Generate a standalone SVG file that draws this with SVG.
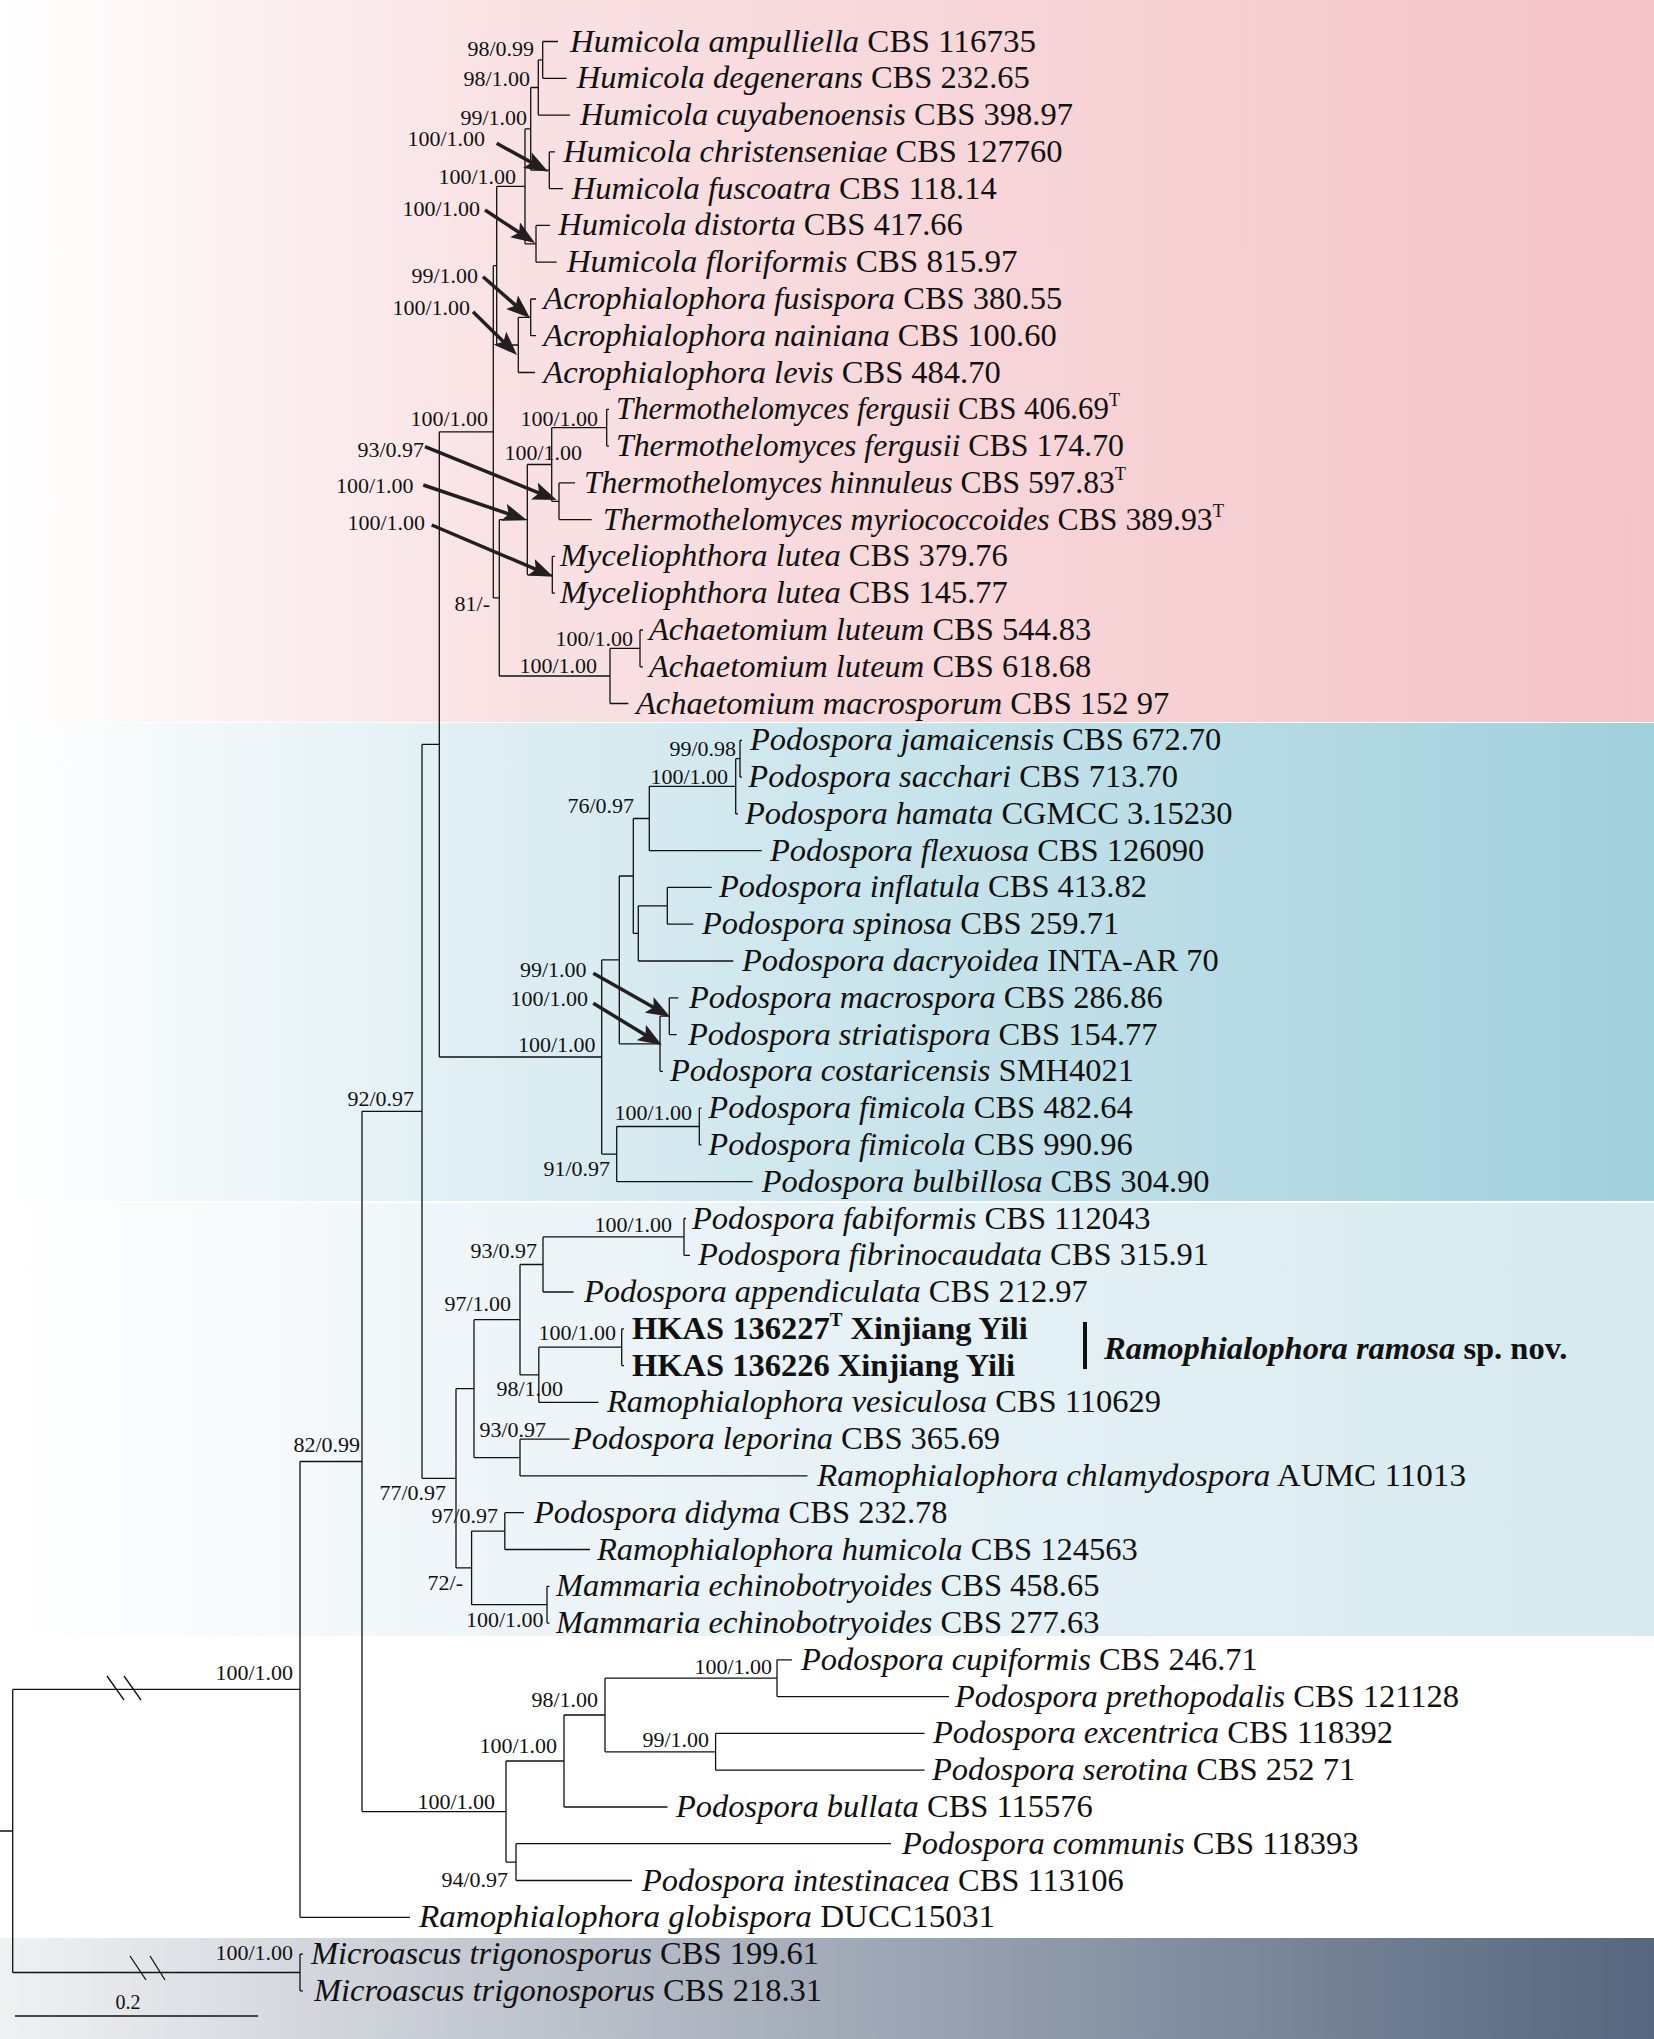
<svg xmlns="http://www.w3.org/2000/svg" width="1654" height="2039" viewBox="0 0 1654 2039">
<defs>
<linearGradient id="gPink" x1="0" y1="0" x2="1" y2="0">
<stop offset="0" stop-color="#ffffff"/><stop offset="0.3" stop-color="#f9e2e4"/><stop offset="1" stop-color="#f4c4c8"/>
</linearGradient>
<linearGradient id="gBlue" x1="0" y1="0" x2="1" y2="0">
<stop offset="0" stop-color="#ffffff"/><stop offset="0.3" stop-color="#deeef3"/><stop offset="1" stop-color="#a0d0dc"/>
</linearGradient>
<linearGradient id="gLight" x1="0" y1="0" x2="1" y2="0">
<stop offset="0" stop-color="#ffffff"/><stop offset="0.3" stop-color="#eef5f8"/><stop offset="1" stop-color="#d6eaf0"/>
</linearGradient>
<linearGradient id="gDark" x1="0" y1="0" x2="1" y2="0">
<stop offset="0" stop-color="#f0f1f3"/><stop offset="1" stop-color="#56667e"/>
</linearGradient>
<marker id="ah" viewBox="0 0 24 18" refX="14" refY="9" markerWidth="24" markerHeight="18" markerUnits="userSpaceOnUse" orient="auto">
<path d="M0,0 L24,9 L0,18 L5,9 z" fill="#231f20"/>
</marker>
<style>
.br{fill:none;stroke:#111;stroke-width:1.3}
.ar{fill:none;stroke:#231f20;stroke-width:3.5;marker-end:url(#ah)}
.t{font-family:"Liberation Serif","Times New Roman",serif;font-size:32.5px;fill:#111}
.i{font-style:italic}
.b{font-weight:bold}
.sup{font-size:19px}
.s{font-family:"Liberation Serif","Times New Roman",serif;font-size:22px;fill:#111;text-anchor:end}
</style>
</defs>
<g id="backgrounds">
<rect x="0" y="0" width="1654" height="722" fill="url(#gPink)"/>
<rect x="0" y="723" width="1654" height="478" fill="url(#gBlue)"/>
<rect x="0" y="1203" width="1654" height="433" fill="url(#gLight)"/>
<rect x="0" y="1938" width="1654" height="101" fill="url(#gDark)"/>
</g>
<g id="connectors">
<path class="br" d="
M0 1831 H12.7 M12.7 1689.4 V1972.5 M12.7 1689.4 H300 M12.7 1972.5 H300
M300 1954.1 V1990.9 M300 1954.1 H303 M300 1990.9 H303
M300 1461.5 V1917.3 M300 1461.5 H362 M300 1917.3 H410
M362 1111.3 V1811.6 M362 1111.3 H422 M362 1811.6 H506
M422 744.4 V1478.3 M422 744.4 H439.3 M422 1478.3 H456
M439.3 431.8 V1057 M439.3 431.8 H493.3 M439.3 1057 H601.7
M493.3 265.7 V597.9 M493.3 265.7 H496.7 M493.3 597.9 H499.3
M496.7 186.4 V345 M496.7 186.4 H525 M496.7 345 H518.3
M525 128.9 V243.8 M525 128.9 H530.7 M525 243.8 H536
M530.7 87.5 V170.2 M530.7 87.5 H538.3 M530.7 170.2 H549.3
M538.3 59.9 V115.1 M538.3 59.9 H542.7 M538.3 115.1 H570
M542.7 41.5 V78.3 M542.7 41.5 H558 M542.7 78.3 H566.7
M549.3 151.8 V188.6 M549.3 151.8 H555 M549.3 188.6 H563
M536 225.4 V262.2 M536 225.4 H550 M536 262.2 H556.7
M518.3 317.4 V372.5 M518.3 317.4 H530.7 M518.3 372.5 H535
M530.7 299 V335.7 M530.7 299 H536 M530.7 335.7 H536
M499.3 519.7 V676 M499.3 519.7 H527.3 M499.3 676 H610
M527.3 464.5 V574.8 M527.3 464.5 H551.7 M527.3 574.8 H552.3
M551.7 427.7 V501.3 M551.7 427.7 H606.7 M551.7 501.3 H559
M606.7 409.3 V446.1 M606.7 409.3 H609 M606.7 446.1 H609
M559 482.9 V519.6 M559 482.9 H575 M559 519.6 H591.7
M552.3 556.4 V593.2 M552.3 556.4 H555 M552.3 593.2 H555
M610 648.4 V703.5 M610 648.4 H640 M610 703.5 H628.3
M640 630 V666.8 M640 630 H643 M640 666.8 H643
M601.7 959.9 V1154.1 M601.7 959.9 H619.3 M601.7 1154.1 H616.7
M619.3 876 V1043.8 M619.3 876 H633.3 M619.3 1043.8 H660
M633.3 818.5 V933.4 M633.3 818.5 H649.3 M633.3 933.4 H638.3
M649.3 786.3 V850.7 M649.3 786.3 H735.7 M649.3 850.7 H761.7
M735.7 758.7 V813.9 M735.7 758.7 H740 M735.7 813.9 H738
M740 740.3 V777.1 M740 740.3 H742 M740 777.1 H742
M638.3 905.8 V961 M638.3 905.8 H667.3 M638.3 961 H733.3
M667.3 887.4 V924.2 M667.3 887.4 H711.7 M667.3 924.2 H693.3
M660 1016.2 V1071.3 M660 1016.2 H669.3 M660 1071.3 H663
M669.3 997.8 V1034.6 M669.3 997.8 H678.3 M669.3 1034.6 H676.7
M616.7 1126.5 V1181.7 M616.7 1126.5 H699.3 M616.7 1181.7 H752.7
M699.3 1108.1 V1144.9 M699.3 1108.1 H701.5 M699.3 1144.9 H701.5
M456 1388.6 V1567.9 M456 1388.6 H474 M456 1567.9 H471.6
M474 1319.7 V1457.6 M474 1319.7 H520 M474 1457.6 H520
M520 1264.5 V1374.8 M520 1264.5 H543 M520 1374.8 H538.8
M543 1236.9 V1292 M543 1236.9 H684 M543 1292 H573.6
M684 1218.5 V1255.3 M684 1218.5 H686 M684 1255.3 H690
M538.8 1347.2 V1402.4 M538.8 1347.2 H621.7 M538.8 1402.4 H598.5
M621.7 1328.8 V1365.6 M621.7 1328.8 H624 M621.7 1365.6 H624
M520 1439.2 V1475.9 M520 1439.2 H569.5 M520 1475.9 H807.5
M471.6 1531.1 V1604.7 M471.6 1531.1 H504.8 M471.6 1604.7 H547
M504.8 1512.7 V1549.5 M504.8 1512.7 H524 M504.8 1549.5 H590
M547 1586.3 V1623.1 M547 1586.3 H549.5 M547 1623.1 H549.5
M506 1761 V1862.1 M506 1761 H564 M506 1862.1 H516
M564 1715 V1807 M564 1715 H605 M564 1807 H667.5
M605 1678.2 V1751.8 M605 1678.2 H777 M605 1751.8 H715.6
M777 1659.8 V1696.6 M777 1659.8 H792 M777 1696.6 H949
M715.6 1733.4 V1770.2 M715.6 1733.4 H924.5 M715.6 1770.2 H924.5
M516 1843.7 V1880.5 M516 1843.7 H891 M516 1880.5 H632
M107 1676 L124 1700 M124 1676 L141 1700
M130 1956 L146 1980 M150 1956 L165 1980
"/>
<path class="ar" d="M496.7 143.3 L539.5 166.9"/>
<path class="ar" d="M485 210 L526.7 237.5"/>
<path class="ar" d="M483 276.7 L522.5 311.4"/>
<path class="ar" d="M473 311.7 L509.9 348"/>
<path class="ar" d="M425 446.7 L547.4 496.3"/>
<path class="ar" d="M423.3 485 L517.2 516.8"/>
<path class="ar" d="M431.7 525 L544.1 572.8"/>
<path class="ar" d="M593.3 973.3 L661.3 1011.8"/>
<path class="ar" d="M593.3 1003.3 L653.2 1039.8"/>
</g>
<g id="scale-bar">
<path class="br" d="M15 2016 H258"/>
<text x="128" y="2009" font-family="Liberation Serif, serif" font-size="20" text-anchor="middle" fill="#111">0.2</text>
</g>
<g id="support-values">
<text class="s" x="534" y="56">98/0.99</text>
<text class="s" x="530" y="86">98/1.00</text>
<text class="s" x="527" y="125">99/1.00</text>
<text class="s" x="485" y="146">100/1.00</text>
<text class="s" x="516" y="184">100/1.00</text>
<text class="s" x="480" y="216">100/1.00</text>
<text class="s" x="478" y="283">99/1.00</text>
<text class="s" x="470" y="315">100/1.00</text>
<text class="s" x="488" y="426">100/1.00</text>
<text class="s" x="598" y="426">100/1.00</text>
<text class="s" x="424" y="457">93/0.97</text>
<text class="s" x="582" y="460">100/1.00</text>
<text class="s" x="413.5" y="493">100/1.00</text>
<text class="s" x="425" y="530">100/1.00</text>
<text class="s" x="490" y="611">81/-</text>
<text class="s" x="633" y="646">100/1.00</text>
<text class="s" x="597" y="673">100/1.00</text>
<text class="s" x="736" y="756" font-size="21">99/0.98</text>
<text class="s" x="728" y="784">100/1.00</text>
<text class="s" x="634" y="813" font-size="19.5">76/0.97</text>
<text class="s" x="586.5" y="977">99/1.00</text>
<text class="s" x="588" y="1005.6">100/1.00</text>
<text class="s" x="595.5" y="1052">100/1.00</text>
<text class="s" x="692" y="1120">100/1.00</text>
<text class="s" x="610" y="1176">91/0.97</text>
<text class="s" x="414" y="1106">92/0.97</text>
<text class="s" x="672" y="1232">100/1.00</text>
<text class="s" x="537" y="1258">93/0.97</text>
<text class="s" x="511" y="1311">97/1.00</text>
<text class="s" x="616" y="1340">100/1.00</text>
<text class="s" x="563" y="1396">98/1.00</text>
<text class="s" x="546" y="1437">93/0.97</text>
<text class="s" x="360" y="1452">82/0.99</text>
<text class="s" x="446" y="1500">77/0.97</text>
<text class="s" x="498" y="1523">97/0.97</text>
<text class="s" x="463" y="1590">72/-</text>
<text class="s" x="543.5" y="1627">100/1.00</text>
<text class="s" x="293" y="1680">100/1.00</text>
<text class="s" x="772" y="1674">100/1.00</text>
<text class="s" x="598" y="1707">98/1.00</text>
<text class="s" x="709" y="1747">99/1.00</text>
<text class="s" x="557" y="1753">100/1.00</text>
<text class="s" x="495" y="1809">100/1.00</text>
<text class="s" x="508" y="1887">94/0.97</text>
<text class="s" x="293" y="1960">100/1.00</text>
</g>
<g id="taxa">
<g id="taxon-01"><text class="t" x="570" y="51.5" textLength="466" lengthAdjust="spacingAndGlyphs"><tspan class="i">Humicola ampulliella</tspan> CBS 116735</text></g>
<g id="taxon-02"><text class="t" x="576.7" y="88.3"><tspan class="i">Humicola degenerans</tspan> CBS 232.65</text></g>
<g id="taxon-03"><text class="t" x="580" y="125.1"><tspan class="i">Humicola cuyabenoensis</tspan> CBS 398.97</text></g>
<g id="taxon-04"><text class="t" x="563.3" y="161.8"><tspan class="i">Humicola christenseniae</tspan> CBS 127760</text></g>
<g id="taxon-05"><text class="t" x="571.7" y="198.6"><tspan class="i">Humicola fuscoatra</tspan> CBS 118.14</text></g>
<g id="taxon-06"><text class="t" x="558.3" y="235.4"><tspan class="i">Humicola distorta</tspan> CBS 417.66</text></g>
<g id="taxon-07"><text class="t" x="566.7" y="272.2" textLength="451" lengthAdjust="spacingAndGlyphs"><tspan class="i">Humicola floriformis</tspan> CBS 815.97</text></g>
<g id="taxon-08"><text class="t" x="543.3" y="309"><tspan class="i">Acrophialophora fusispora</tspan> CBS 380.55</text></g>
<g id="taxon-09"><text class="t" x="543.3" y="345.7"><tspan class="i">Acrophialophora nainiana</tspan> CBS 100.60</text></g>
<g id="taxon-10"><text class="t" x="543.3" y="382.5"><tspan class="i">Acrophialophora levis</tspan> CBS 484.70</text></g>
<g id="taxon-11"><text class="t" x="616" y="419.3" textLength="504" lengthAdjust="spacingAndGlyphs"><tspan class="i">Thermothelomyces fergusii</tspan> CBS 406.69<tspan class="sup" dy="-13">T</tspan></text></g>
<g id="taxon-12"><text class="t" x="616" y="456.1" textLength="508" lengthAdjust="spacingAndGlyphs"><tspan class="i">Thermothelomyces fergusii</tspan> CBS 174.70</text></g>
<g id="taxon-13"><text class="t" x="584" y="492.9" textLength="542" lengthAdjust="spacingAndGlyphs"><tspan class="i">Thermothelomyces hinnuleus</tspan> CBS 597.83<tspan class="sup" dy="-13">T</tspan></text></g>
<g id="taxon-14"><text class="t" x="603" y="529.6" textLength="621" lengthAdjust="spacingAndGlyphs"><tspan class="i">Thermothelomyces myriococcoides</tspan> CBS 389.93<tspan class="sup" dy="-13">T</tspan></text></g>
<g id="taxon-15"><text class="t" x="560" y="566.4"><tspan class="i">Myceliophthora lutea</tspan> CBS 379.76</text></g>
<g id="taxon-16"><text class="t" x="560" y="603.2"><tspan class="i">Myceliophthora lutea</tspan> CBS 145.77</text></g>
<g id="taxon-17"><text class="t" x="649" y="640"><tspan class="i">Achaetomium luteum</tspan> CBS 544.83</text></g>
<g id="taxon-18"><text class="t" x="649" y="676.8"><tspan class="i">Achaetomium luteum</tspan> CBS 618.68</text></g>
<g id="taxon-19"><text class="t" x="636" y="713.5"><tspan class="i">Achaetomium macrosporum</tspan> CBS 152 97</text></g>
<g id="taxon-20"><text class="t" x="750" y="750.3"><tspan class="i">Podospora jamaicensis</tspan> CBS 672.70</text></g>
<g id="taxon-21"><text class="t" x="748.3" y="787.1"><tspan class="i">Podospora sacchari</tspan> CBS 713.70</text></g>
<g id="taxon-22"><text class="t" x="745" y="823.9"><tspan class="i">Podospora hamata</tspan> CGMCC 3.15230</text></g>
<g id="taxon-23"><text class="t" x="770" y="860.7"><tspan class="i">Podospora flexuosa</tspan> CBS 126090</text></g>
<g id="taxon-24"><text class="t" x="719" y="897.4"><tspan class="i">Podospora inflatula</tspan> CBS 413.82</text></g>
<g id="taxon-25"><text class="t" x="702" y="934.2"><tspan class="i">Podospora spinosa</tspan> CBS 259.71</text></g>
<g id="taxon-26"><text class="t" x="742" y="971"><tspan class="i">Podospora dacryoidea</tspan> INTA-AR 70</text></g>
<g id="taxon-27"><text class="t" x="689" y="1007.8"><tspan class="i">Podospora macrospora</tspan> CBS 286.86</text></g>
<g id="taxon-28"><text class="t" x="688" y="1044.6"><tspan class="i">Podospora striatispora</tspan> CBS 154.77</text></g>
<g id="taxon-29"><text class="t" x="670" y="1081.3"><tspan class="i">Podospora costaricensis</tspan> SMH4021</text></g>
<g id="taxon-30"><text class="t" x="708.3" y="1118.1"><tspan class="i">Podospora fimicola</tspan> CBS 482.64</text></g>
<g id="taxon-31"><text class="t" x="708.3" y="1154.9"><tspan class="i">Podospora fimicola</tspan> CBS 990.96</text></g>
<g id="taxon-32"><text class="t" x="761.7" y="1191.7"><tspan class="i">Podospora bulbillosa</tspan> CBS 304.90</text></g>
<g id="taxon-33"><text class="t" x="692" y="1228.5"><tspan class="i">Podospora fabiformis</tspan> CBS 112043</text></g>
<g id="taxon-34"><text class="t" x="698" y="1265.3"><tspan class="i">Podospora fibrinocaudata</tspan> CBS 315.91</text></g>
<g id="taxon-35"><text class="t" x="584" y="1302"><tspan class="i">Podospora appendiculata</tspan> CBS 212.97</text></g>
<g id="taxon-36"><text class="t b" x="632" y="1338.8">HKAS 136227<tspan class="sup" dy="-13">T</tspan><tspan dy="13"> Xinjiang Yili</tspan></text></g>
<g id="taxon-37"><text class="t b" x="632" y="1375.6">HKAS 136226 Xinjiang Yili</text></g>
<g id="taxon-38"><text class="t" x="607" y="1412.4"><tspan class="i">Ramophialophora vesiculosa</tspan> CBS 110629</text></g>
<g id="taxon-39"><text class="t" x="572" y="1449.2"><tspan class="i">Podospora leporina</tspan> CBS 365.69</text></g>
<g id="taxon-40"><text class="t" x="817" y="1485.9" textLength="649" lengthAdjust="spacingAndGlyphs"><tspan class="i">Ramophialophora chlamydospora</tspan> AUMC 11013</text></g>
<g id="taxon-41"><text class="t" x="534" y="1522.7"><tspan class="i">Podospora didyma</tspan> CBS 232.78</text></g>
<g id="taxon-42"><text class="t" x="597" y="1559.5"><tspan class="i">Ramophialophora humicola</tspan> CBS 124563</text></g>
<g id="taxon-43"><text class="t" x="556" y="1596.3"><tspan class="i">Mammaria echinobotryoides</tspan> CBS 458.65</text></g>
<g id="taxon-44"><text class="t" x="556" y="1633.1"><tspan class="i">Mammaria echinobotryoides</tspan> CBS 277.63</text></g>
<g id="taxon-45"><text class="t" x="801" y="1669.8"><tspan class="i">Podospora cupiformis</tspan> CBS 246.71</text></g>
<g id="taxon-46"><text class="t" x="955" y="1706.6"><tspan class="i">Podospora prethopodalis</tspan> CBS 121128</text></g>
<g id="taxon-47"><text class="t" x="933" y="1743.4"><tspan class="i">Podospora excentrica</tspan> CBS 118392</text></g>
<g id="taxon-48"><text class="t" x="932" y="1780.2"><tspan class="i">Podospora serotina</tspan> CBS 252 71</text></g>
<g id="taxon-49"><text class="t" x="676" y="1817"><tspan class="i">Podospora bullata</tspan> CBS 115576</text></g>
<g id="taxon-50"><text class="t" x="902" y="1853.7"><tspan class="i">Podospora communis</tspan> CBS 118393</text></g>
<g id="taxon-51"><text class="t" x="642" y="1890.5"><tspan class="i">Podospora intestinacea</tspan> CBS 113106</text></g>
<g id="taxon-52"><text class="t" x="419" y="1927.3" textLength="576" lengthAdjust="spacingAndGlyphs"><tspan class="i">Ramophialophora globispora</tspan> DUCC15031</text></g>
<g id="taxon-53"><text class="t" x="311" y="1964.1"><tspan class="i">Microascus trigonosporus</tspan> CBS 199.61</text></g>
<g id="taxon-54"><text class="t" x="314" y="2000.9"><tspan class="i">Microascus trigonosporus</tspan> CBS 218.31</text></g>
</g>
<g id="new-species-label">
<rect x="1083" y="1322" width="4" height="47" fill="#111"/>
<text class="t b" x="1104" y="1359"><tspan class="i">Ramophialophora ramosa</tspan> sp. nov.</text>
</g>
</svg>
